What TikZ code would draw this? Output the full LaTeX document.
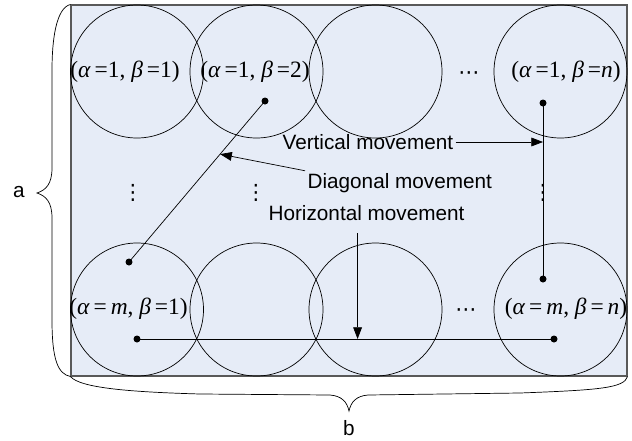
\documentclass[tikz,border=0pt]{standalone}
\usepackage{fontspec}
\setmainfont{Liberation Sans}
\newfontfamily\timesfont{Liberation Serif}
\newfontfamily\dotsfont{DejaVu Sans}
\usetikzlibrary{arrows.meta, positioning, calc}
\definecolor{panelblue}{RGB}{230,236,247}
\newcommand{\cellpos}[2]{{\timesfont(\textit{α}\,=#1, \textit{β}\,=#2)}}

\begin{document}
\begin{tikzpicture}[
    x=0.03cm, y=-0.03cm,
    panel/.style={draw=gray!70!black, line width=0.9pt, fill=panelblue, minimum width=16.68cm, minimum height=11.13cm, inner sep=0pt},
    cell/.style={draw, circle, line width=0.6pt, minimum size=3.99cm, inner sep=0pt},
    celltext/.style={font=\fontsize{20}{24}\selectfont, inner sep=0pt},
    ellip/.style={font=\dotsfont\fontsize{18}{20}\selectfont, inner sep=0pt},
    lbl/.style={font=\fontsize{17.7}{21}\selectfont, inner sep=2pt},
    dot/.style={circle, fill, inner sep=0pt, minimum size=0.21cm},
    move/.style={line width=0.6pt},
    arrow/.style={-{Triangle[length=10pt, width=7.5pt]}, line width=0.6pt},
    brace/.style={line width=0.6pt}
]
    \useasboundingbox (0,0) rectangle (632,441);
    \node[panel] (panel) at (349,190.5) {};

    % grid of cells
    \node[cell] (c11) at (137,71.5) {};
    \node[cell] (c12) at (256.5,71.5) {};
    \node[cell] (c13) at (375.5,71.5) {};
    \node[cell] (c1n) at (560.5,71.5) {};
    \node[cell] (cm1) at (137,309.5) {};
    \node[cell] (cm2) at (256.5,309.5) {};
    \node[cell] (cm3) at (375.5,309.5) {};
    \node[cell] (cmn) at (560.5,309.5) {};

    \node[celltext] (l11) at (125,72) {\cellpos{1}{1}};
    \node[celltext] (l12) at (255,72) {\cellpos{1}{2}};
    \node[celltext] (l1n) at (566,72) {\cellpos{1}{\textit{n}}};
    \node[celltext] (lm1) at (128.5,309) {\cellpos{\,\textit{m}}{1}};
    \node[celltext] (lmn) at (566,309) {\cellpos{\,\textit{m}}{\,\textit{n}}};

    \node[ellip] (hdots1) at (469,76) {⋯};
    \node[ellip] (hdots2) at (466,313) {⋯};
    \node[ellip] (vdots1) at (133,193) {⋮};
    \node[ellip] (vdots2) at (256,193) {⋮};
    \node[ellip] (vdots3) at (543,193) {⋮};

    % movements
    \node[dot] (p12) at (265,101) {};
    \node[dot] (p1n) at (543,103) {};
    \node[dot] (pm1a) at (129,262) {};
    \node[dot] (pm1b) at (137,339) {};
    \node[dot] (pmna) at (543,279) {};
    \node[dot] (pmnb) at (554,339) {};

    \draw[move] (p12.center) -- coordinate[pos=0.33] (dhit) (pm1a.center);
    \draw[move] (p1n.center) -- (pmna.center);
    \draw[move] (pm1b.center) -- coordinate[pos=0.529] (hhit) (pmnb.center);

    \node[lbl, anchor=west] (vert) at (280,142) {Vertical movement};
    \node[lbl, anchor=west] (diag) at (305,183) {Diagonal movement};
    \node[lbl, anchor=west] (horiz) at (266,213) {Horizontal movement};

    \draw[arrow] (vert.east) -- (vert.east -| p1n);
    \draw[arrow] (diag.north west) -- (dhit);
    \draw[arrow, shorten <=0.3cm] (hhit |- horiz.south) -- (hhit);

    % braces
    \draw[brace] (panel.north west) .. controls (56,8) and (52,40) .. (52,70)
        -- (52,168) .. controls (52,184) and (46,190) .. (37,193)
        .. controls (46,196) and (52,202) .. (52,218)
        -- (52,320) .. controls (52,360) and (58,374) .. (panel.south west);
    \node[lbl] (a) at (19,192) {a};

    \draw[brace] (panel.south west) .. controls (80,388) and (130,392) .. (200,394)
        -- (330,395) .. controls (342,396) and (347,402) .. (349,411)
        .. controls (351,402) and (356,396) .. (368,395)
        -- (520,393) .. controls (600,390) and (624,388) .. (panel.south east);
    \node[lbl] (b) at (349,428) {b};
\end{tikzpicture}
\end{document}
